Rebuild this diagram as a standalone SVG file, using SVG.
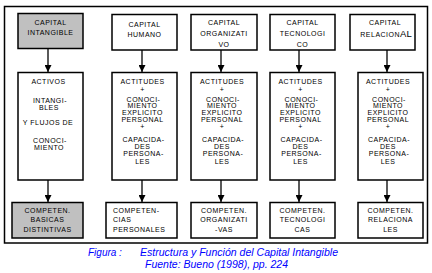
<svg xmlns="http://www.w3.org/2000/svg" width="432" height="273" viewBox="0 0 432 273">
<style>
.box{fill:#fff;stroke:#000;stroke-width:1.5}
.gray{fill:#c0c0c0}
.t{font-family:"Liberation Sans",Arial,sans-serif;font-size:7px;letter-spacing:0.5px;fill:#000;text-anchor:middle}
.l{text-anchor:start}
.big{font-size:9.5px;letter-spacing:0}
.cap{font-family:"Liberation Sans",Arial,sans-serif;font-size:10px;font-style:italic;fill:#0000ff}
.con{stroke:#000;stroke-width:1.3;fill:none;marker-end:url(#ah)}
</style>
<defs>
<marker id="ah" markerUnits="userSpaceOnUse" markerWidth="7" markerHeight="7" viewBox="0 0 10 10" refX="10" refY="5" orient="auto">
<path d="M0,0 L10,5 L0,10 z" fill="#000"/>
</marker>
</defs>
<rect x="4.5" y="6.5" width="423" height="236.5" fill="#fff" stroke="#000" stroke-width="1.5"/>
<g id="connectors">
<line class="con" x1="48" y1="48" x2="48" y2="72"/>
<line class="con" x1="142" y1="50" x2="142" y2="72"/>
<line class="con" x1="221" y1="50" x2="221" y2="72"/>
<line class="con" x1="299" y1="50" x2="299" y2="72"/>
<line class="con" x1="387" y1="50" x2="387" y2="72"/>
<line class="con" x1="48" y1="180" x2="48" y2="202"/>
<line class="con" x1="142" y1="180" x2="142" y2="202"/>
<line class="con" x1="221" y1="180" x2="221" y2="202"/>
<line class="con" x1="299" y1="180" x2="299" y2="202"/>
<line class="con" x1="387" y1="180" x2="387" y2="202"/>
</g>
<g id="n-cap-intangible">
<rect class="box gray" x="18" y="13.5" width="65" height="35"/>
<text class="t" x="50.5" y="24.5">CAPITAL</text>
<text class="t" x="50.5" y="35">INTANGIBLE</text>
</g>
<g id="n-cap-humano">
<rect class="box" x="112" y="14.5" width="65" height="35.5"/>
<text class="t" x="144.5" y="27">CAPITAL</text>
<text class="t" x="144.5" y="36.5">HUMANO</text>
</g>
<g id="n-cap-organizativo">
<rect class="box" x="191" y="14.5" width="66" height="35.5"/>
<text class="t" x="224" y="25">CAPITAL</text>
<text class="t" x="224" y="36">ORGANIZATI</text>
<text class="t" x="224" y="46.5">VO</text>
</g>
<g id="n-cap-tecnologico">
<rect class="box" x="270" y="14.5" width="65" height="35.5"/>
<text class="t" x="302.5" y="25">CAPITAL</text>
<text class="t" x="302.5" y="36">TECNOLOGI</text>
<text class="t" x="302.5" y="46.5">CO</text>
</g>
<g id="n-cap-relacional">
<rect class="box" x="350" y="14.5" width="65" height="35.5"/>
<text class="t" x="385" y="25">CAPITAL</text>
<text class="t" x="386" y="36.5">RELACION<tspan class="big">AL</tspan></text>
</g>
<g id="n-activos">
<rect class="box" x="18" y="72.5" width="65" height="107.5"/>
<text class="t" x="48.5" y="83.5">ACTIVOS</text>
<text class="t" x="50" y="102.5">INTANGI-</text>
<text class="t" x="49" y="109.5">BLES</text>
<text class="t" x="48" y="125">Y FLUJOS DE</text>
<text class="t" x="50" y="142.5">CONOCI-</text>
<text class="t" x="49" y="150">MIENTO</text>
</g>
<g id="n-act-humano">
<rect class="box" x="112" y="72.5" width="65" height="107.5"/>
<text class="t" x="142.5" y="83.5">ACTITUDES</text>
<text class="t" x="142.5" y="91.5">+</text>
<text class="t" x="143.5" y="101.5">CONOCI-</text>
<text class="t" x="142.5" y="108">MIENTO</text>
<text class="t" x="142.5" y="115">EXPLICITO</text>
<text class="t" x="142.5" y="121.5">PERSONAL</text>
<text class="t" x="142.5" y="129">+</text>
<text class="t" x="143.5" y="141.5">CAPACIDA-</text>
<text class="t" x="142.5" y="149">DES</text>
<text class="t" x="143.5" y="156">PERSONA-</text>
<text class="t" x="142.5" y="163.5">LES</text>
</g>
<g id="n-act-organizativo">
<rect class="box" x="191" y="72.5" width="66" height="107.5"/>
<text class="t" x="222" y="83.5">ACTITUDES</text>
<text class="t" x="222" y="91.5">+</text>
<text class="t" x="223" y="101.5">CONOCI-</text>
<text class="t" x="222" y="108">MIENTO</text>
<text class="t" x="222" y="115">EXPLICITO</text>
<text class="t" x="222" y="121.5">PERSONAL</text>
<text class="t" x="222" y="129">+</text>
<text class="t" x="223" y="141.5">CAPACIDA-</text>
<text class="t" x="222" y="149">DES</text>
<text class="t" x="223" y="156">PERSONA-</text>
<text class="t" x="222" y="163.5">LES</text>
</g>
<g id="n-act-tecnologico">
<rect class="box" x="270" y="72.5" width="65" height="107.5"/>
<text class="t" x="300.5" y="83.5">ACTITUDES</text>
<text class="t" x="300.5" y="91.5">+</text>
<text class="t" x="301.5" y="101.5">CONOCI-</text>
<text class="t" x="300.5" y="108">MIENTO</text>
<text class="t" x="300.5" y="115">EXPLICITO</text>
<text class="t" x="300.5" y="121.5">PERSONAL</text>
<text class="t" x="300.5" y="129">+</text>
<text class="t" x="301.5" y="141.5">CAPACIDA-</text>
<text class="t" x="300.5" y="149">DES</text>
<text class="t" x="301.5" y="156">PERSONA-</text>
<text class="t" x="300.5" y="163.5">LES</text>
</g>
<g id="n-act-relacional">
<rect class="box" x="358" y="72.5" width="65" height="107.5"/>
<text class="t" x="388" y="83.5">ACTITUDES</text>
<text class="t" x="388" y="91.5">+</text>
<text class="t" x="389" y="101.5">CONOCI-</text>
<text class="t" x="388" y="108">MIENTO</text>
<text class="t" x="388" y="115">EXPLICITO</text>
<text class="t" x="388" y="121.5">PERSONAL</text>
<text class="t" x="388" y="129">+</text>
<text class="t" x="389" y="141.5">CAPACIDA-</text>
<text class="t" x="388" y="149">DES</text>
<text class="t" x="389" y="156">PERSONA-</text>
<text class="t" x="388" y="163.5">LES</text>
</g>
<g id="n-comp-basicas">
<rect class="box gray" x="12" y="202.5" width="71" height="35.5"/>
<text class="t" x="47.5" y="213">COMPETEN.</text>
<text class="t" x="47.5" y="222">BASICAS</text>
<text class="t" x="47.5" y="231.5">DISTINTIVAS</text>
</g>
<g id="n-comp-personales">
<rect class="box" x="106" y="202.5" width="71" height="35.5"/>
<text class="t l" x="113" y="213">COMPETEN-</text>
<text class="t l" x="113" y="222">CIAS</text>
<text class="t l" x="113" y="231.5">PERSONALES</text>
</g>
<g id="n-comp-organizativas">
<rect class="box" x="191" y="202.5" width="66" height="35.5"/>
<text class="t" x="224" y="213">COMPETEN.</text>
<text class="t" x="224" y="222">ORGANIZATI</text>
<text class="t" x="224" y="231.5">-VAS</text>
</g>
<g id="n-comp-tecnologicas">
<rect class="box" x="270" y="202.5" width="65" height="35.5"/>
<text class="t" x="302.5" y="213">COMPETEN.</text>
<text class="t" x="302.5" y="222">TECNOLOGI</text>
<text class="t" x="302.5" y="231.5">CAS</text>
</g>
<g id="n-comp-relacionales">
<rect class="box" x="358" y="202.5" width="65" height="35.5"/>
<text class="t" x="390.5" y="213">COMPETEN.</text>
<text class="t" x="390.5" y="222">RELACIONA</text>
<text class="t" x="390.5" y="231.5">LES</text>
</g>
<g id="caption">
<text class="cap" x="88" y="256">Figura :</text>
<text class="cap" x="140" y="256" textLength="198" lengthAdjust="spacingAndGlyphs">Estructura y Función del Capital Intangible</text>
<text class="cap" x="145" y="268" textLength="143" lengthAdjust="spacingAndGlyphs">Fuente: Bueno (1998), pp. 224</text>
</g>
</svg>
